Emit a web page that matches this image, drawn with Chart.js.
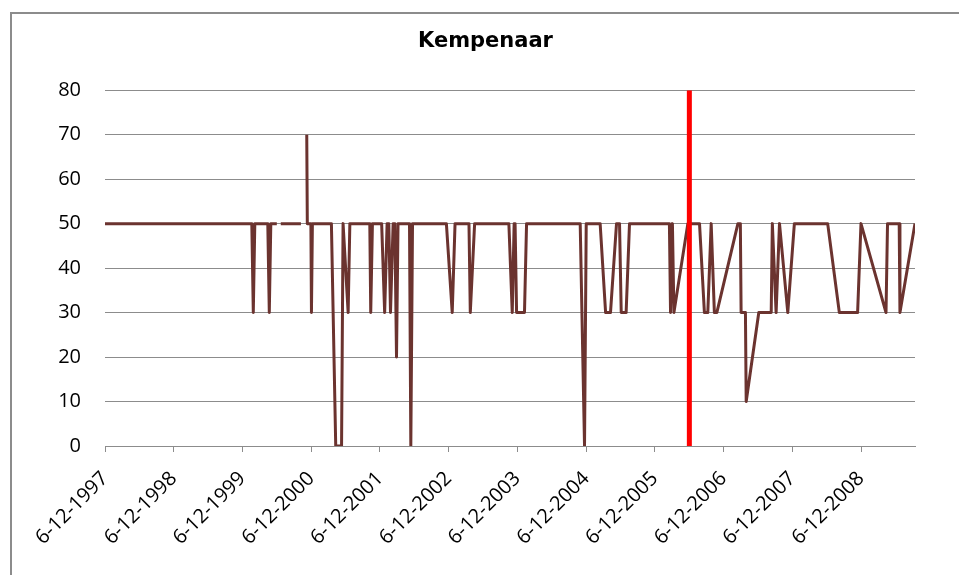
<!DOCTYPE html>
<html>
<head>
<meta charset="utf-8">
<script src="https://cdn.jsdelivr.net/npm/chart.js@4.4.1/dist/chart.umd.min.js"></script>
<style>
  html, body { margin: 0; padding: 0; background: #fff; }
  #wrap { width: 959px; height: 575px; }
</style>
</head>
<body>
<div id="wrap"><canvas id="myChart" width="959" height="575"></canvas></div>
<script>
// data (null = missing value, gives a gap)
const chartTitle = 'Kempenaar';

const measureDates = [
  '1997-12-06', '2000-01-25', '2000-02-02', '2000-02-10', '2000-04-19', '2000-04-27', '2000-05-05', '2000-06-06',
  '2000-06-16', '2000-06-27', '2000-10-12', '2000-10-25',
  '2000-11-12', '2000-11-15', '2000-12-04', '2000-12-07', '2000-12-12',
  '2001-03-23', '2001-04-15', '2001-05-16', '2001-05-24', '2001-06-20', '2001-06-29',
  '2001-10-13', '2001-10-18', '2001-10-27', '2001-12-15', '2001-12-31',
  '2002-01-13', '2002-01-22', '2002-01-31', '2002-02-14', '2002-02-23', '2002-03-04', '2002-03-12',
  '2002-05-12', '2002-05-19', '2002-05-28', '2002-11-24', '2002-12-25',
  '2003-01-09', '2003-03-24', '2003-03-31', '2003-04-23', '2003-10-22', '2003-11-09', '2003-11-19', '2003-11-24', '2003-12-02',
  '2004-01-13', '2004-01-24', '2004-11-04', '2004-11-27', '2004-12-06',
  '2005-02-18', '2005-03-19', '2005-04-14', '2005-05-16', '2005-06-01', '2005-06-10', '2005-07-06', '2005-07-24',
  '2006-02-21', '2006-02-27', '2006-03-09', '2006-03-17', '2006-05-30', '2006-07-31', '2006-08-26', '2006-09-13',
  '2006-10-01', '2006-10-18', '2006-10-31',
  '2007-02-20', '2007-03-05', '2007-03-09', '2007-04-01', '2007-04-05', '2007-06-11', '2007-08-16', '2007-08-22',
  '2007-09-11', '2007-09-29', '2007-11-12', '2007-12-17',
  '2008-06-11', '2008-08-12', '2008-11-17', '2008-12-05',
  '2009-04-17', '2009-04-25', '2009-06-26', '2009-06-30', '2009-09-18'
];
const measureValues = [
  50, 50, 30, 50, 50, 30, 50, 50,
  null, 50, 50, null,
  70, 50, 50, 30, 50,
  50, 0, 0, 50, 30, 50,
  50, 30, 50, 50, 30,
  50, 50, 30, 50, 50, 20, 50,
  50, 0, 50, 50, 30,
  50, 50, 30, 50, 50, 30, 50, 50, 30,
  30, 50, 50, 0, 50,
  50, 30, 30, 50, 50, 30, 30, 50,
  50, 30, 50, 30, 50, 50, 30, 30,
  50, 30, 30,
  50, 50, 30, 30, 10, 30, 30, 50,
  30, 50, 30, 50,
  50, 30, 30, 50,
  30, 50, 50, 30, 50
];

// red marker line
const markerDates = ['2006-06-07', '2006-06-07'];
const markerValues = [0, 80];

const tickDates = ['1997-12-06', '1998-12-06', '1999-12-06', '2000-12-06', '2001-12-06', '2002-12-06',
  '2003-12-06', '2004-12-06', '2005-12-06', '2006-12-06', '2007-12-06', '2008-12-06'];
const tickLabels = ['6-12-1997', '6-12-1998', '6-12-1999', '6-12-2000', '6-12-2001', '6-12-2002',
  '6-12-2003', '6-12-2004', '6-12-2005', '6-12-2006', '6-12-2007', '6-12-2008'];
const axisStart = '1997-12-06';
const axisEnd = '2009-09-18';

function toDay(s) {
  const p = s.split('-');
  return Date.UTC(+p[0], +p[1] - 1, +p[2]) / 86400000;
}

// grey frame of the chart area
const chartBorder = {
  id: 'chartBorder',
  beforeDraw(chart) {
    const c = chart.ctx;
    c.save();
    c.strokeStyle = '#8c8c8c';
    c.lineWidth = 2;
    c.beginPath();
    c.moveTo(11, chart.height);
    c.lineTo(11, 13);
    c.lineTo(chart.width, 13);
    c.stroke();
    c.restore();
  }
};

var ctx = document.getElementById('myChart').getContext('2d');
var myChart = new Chart(ctx, {
  type: 'line',
  data: {
    datasets: [{
      borderColor: '#ff0000',
      borderWidth: 5,
      borderCapStyle: 'butt',
      pointRadius: 0,
      data: markerDates.map((d, i) => ({ x: toDay(d), y: markerValues[i] }))
    }, {
      borderColor: '#6b332f',
      borderWidth: 3,
      borderJoinStyle: 'round',
      pointRadius: 0,
      tension: 0,
      spanGaps: false,
      data: measureDates.map((d, i) => ({ x: toDay(d), y: measureValues[i] }))
    }]
  },
  options: {
    responsive: false,
    animation: false,
    devicePixelRatio: 1,
    layout: {
      padding: { left: 12, right: 0, top: 0, bottom: 0 }
    },
    plugins: {
      legend: { display: false },
      tooltip: { enabled: false },
      title: {
        display: true,
        text: chartTitle,
        color: '#000',
        font: { family: 'DejaVu Sans', size: 21, weight: 'bold' },
        padding: { top: 29, bottom: 36 }
      }
    },
    scales: {
      x: {
        type: 'linear',
        min: toDay(axisStart),
        max: toDay(axisEnd),
        afterFit(scale) { scale.height = 129; },
        afterBuildTicks(scale) {
          scale.ticks = tickDates.map(d => ({ value: toDay(d) }));
        },
        grid: {
          drawOnChartArea: false,
          drawTicks: true,
          tickLength: 6,
          color: '#8c8c8c',
          lineWidth: 1
        },
        border: { display: true, color: '#8c8c8c', width: 1 },
        ticks: {
          autoSkip: false,
          minRotation: 45,
          maxRotation: 45,
          padding: 15,
          color: '#000',
          font: { family: 'Open Sans', size: 20 },
          callback: (v, i) => tickLabels[i]
        }
      },
      y: {
        min: 0,
        max: 80,
        afterFit(scale) { scale.width = 93; },
        grid: {
          drawTicks: false,
          color: '#8c8c8c',
          lineWidth: 1
        },
        border: { display: false },
        ticks: {
          stepSize: 10,
          padding: 24,
          color: '#000',
          font: { family: 'Open Sans', size: 20 }
        }
      },
      // empty right axis, only keeps the white margin right of the plot
      yRight: {
        position: 'right',
        afterFit(scale) { scale.width = 44; },
        grid: { display: false },
        border: { display: false },
        ticks: { display: false }
      }
    }
  },
  plugins: [chartBorder]
});
</script>
</body>
</html>
